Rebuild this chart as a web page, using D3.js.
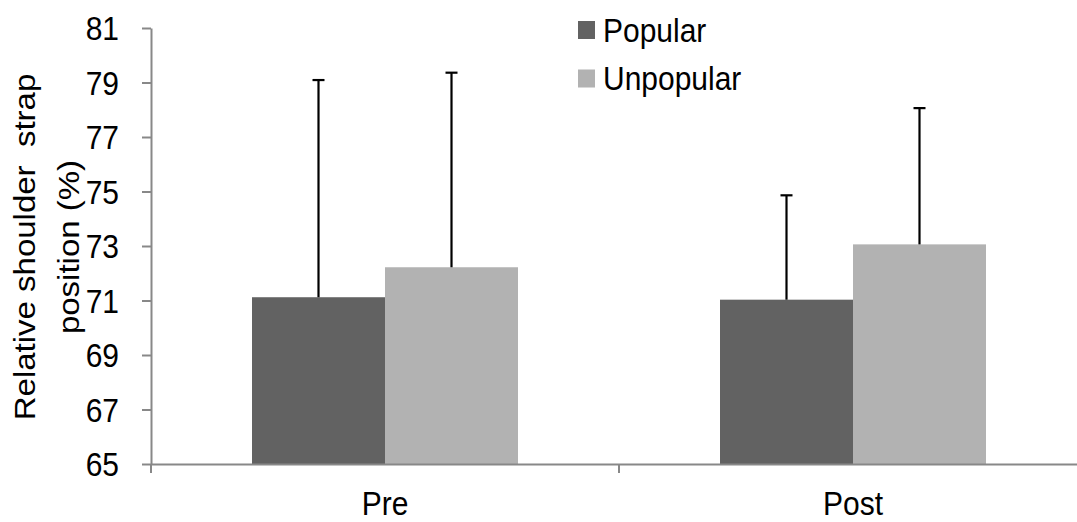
<!DOCTYPE html>
<html>
<head>
<meta charset="utf-8">
<script src="https://cdn.jsdelivr.net/npm/d3@7"></script>
<style>
  html, body { margin: 0; padding: 0; background: #fff; }
  svg text { font-family: "Liberation Sans", Arial, sans-serif; fill: #000; white-space: pre; }
</style>
</head>
<body>
<svg id="chart" width="1077" height="522"></svg>
<script>
const categories = ["Pre", "Post"];
const seriesNames = ["Popular", "Unpopular"];
const popularMeans = [71.12, 71.03];
const unpopularMeans = [72.22, 73.06];
const popularErrTop = [79.09, 74.86];
const unpopularErrTop = [79.36, 78.06];
const yTicks = [65, 67, 69, 71, 73, 75, 77, 79, 81];
const colors = ["#626262", "#b2b2b2"];

(function () {
const svg = d3.select("#chart");
const mL = 151, mR = 1087, mT = 28, mB = 464;
const axisColor = "#888888";
const fontSize = 30;
const sy = 1.1; // vertical stretch of glyphs seen in the reference

const y = d3.scaleLinear().domain([65, 81]).range([mB, mT]);
const x0 = d3.scaleBand().domain(categories).range([mL, mR]).paddingInner(0).paddingOuter(0);
const barW = 133;
const x1 = d3.scaleBand().domain(seriesNames).range([-barW, barW]);

const means = [popularMeans, unpopularMeans];
const errs = [popularErrTop, unpopularErrTop];
const data = [];
categories.forEach((c, i) => {
  seriesNames.forEach((s, j) => {
    data.push({cat: c, ser: s, v: means[j][i], e: errs[j][i], color: colors[j]});
  });
});

// bars
svg.append("g").selectAll("rect").data(data).join("rect")
  .attr("x", d => x0(d.cat) + x0.bandwidth() / 2 + x1(d.ser))
  .attr("y", d => y(d.v))
  .attr("width", x1.bandwidth())
  .attr("height", d => y(65) - y(d.v))
  .attr("fill", d => d.color);

// error bars
const eg = svg.append("g").attr("stroke", "#000").attr("stroke-width", 2.2);
data.forEach(d => {
  const cx = x0(d.cat) + x0.bandwidth() / 2 + x1(d.ser) + x1.bandwidth() / 2;
  eg.append("line").attr("x1", cx).attr("x2", cx).attr("y1", y(d.v)).attr("y2", y(d.e));
  eg.append("line").attr("x1", cx - 6).attr("x2", cx + 6).attr("y1", y(d.e)).attr("y2", y(d.e));
});

// y axis
const yAxis = svg.append("g").attr("transform", `translate(${mL},0)`)
  .call(d3.axisLeft(y).tickValues(yTicks).tickSize(9).tickSizeOuter(0).tickPadding(23).tickFormat(d3.format("d")));
yAxis.select(".domain").attr("stroke", axisColor).attr("stroke-width", 2);
yAxis.selectAll(".tick line").attr("stroke", axisColor).attr("stroke-width", 2);
yAxis.selectAll(".tick text")
  .attr("font-size", fontSize).attr("font-family", "Liberation Sans, Arial, sans-serif").attr("fill", "#000")
  .attr("dy", "0.36em")
  .attr("transform", `scale(1,${sy})`);

// x axis
const xAxis = svg.append("g").attr("transform", `translate(0,${mB})`)
  .call(d3.axisBottom(x0).tickSize(0).tickSizeOuter(0).tickPadding(0));
xAxis.select(".domain").attr("stroke", axisColor).attr("stroke-width", 2);
xAxis.selectAll(".tick text")
  .attr("font-size", fontSize).attr("font-family", "Liberation Sans, Arial, sans-serif").attr("fill", "#000")
  .attr("dy", 0).attr("y", 46)
  .attr("transform", `scale(1,${sy})`);
// boundary tick marks
const bounds = [mL, ...categories.slice(1).map(c => x0(c)), mR];
xAxis.selectAll(".btick").data(bounds).join("line")
  .attr("x1", d => d).attr("x2", d => d).attr("y1", 0).attr("y2", 9)
  .attr("stroke", axisColor).attr("stroke-width", 2);

// y title
const cy = (mT + mB) / 2 + 1;
const yt = svg.append("text")
  .attr("transform", `translate(35,${cy}) scale(1,${sy}) rotate(-90)`)
  .attr("text-anchor", "middle")
  .attr("font-size", fontSize);
yt.append("tspan").attr("x", 0).attr("y", 0).text("Relative shoulder  strap");
yt.append("tspan").attr("x", 0).attr("y", 44).text("position (%)");

// legend
const lg = svg.append("g");
seriesNames.forEach((s, i) => {
  const yy = 21 + i * 48.5;
  lg.append("rect").attr("x", 578).attr("y", yy).attr("width", 17).attr("height", 18).attr("fill", colors[i]);
  lg.append("text")
    .attr("transform", `translate(603,${yy + 20.5}) scale(1,${sy})`)
    .attr("font-size", fontSize).text(s);
});
})();
</script>
</body>
</html>
